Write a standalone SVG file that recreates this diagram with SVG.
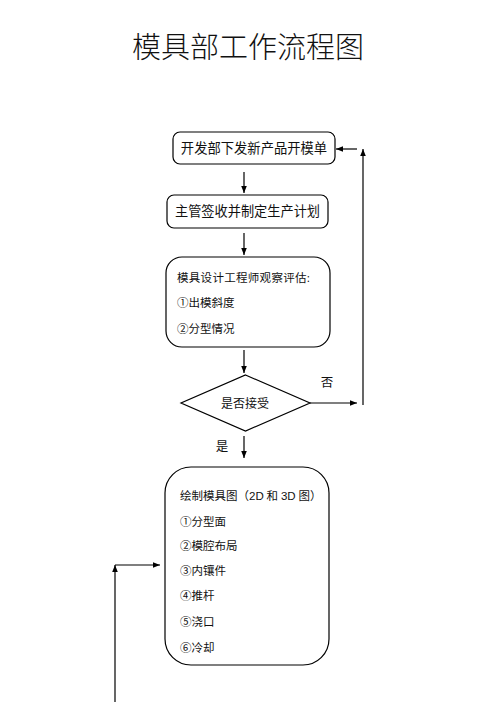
<svg xmlns="http://www.w3.org/2000/svg" width="496" height="702" viewBox="0 0 496 702">
<defs>
<marker id="ah" viewBox="0 0 10 10" refX="10" refY="5" markerWidth="7" markerHeight="7" orient="auto" markerUnits="userSpaceOnUse">
<path d="M0,1 L10,5 L0,9 Z" fill="#000"/>
</marker>
<style>
.box{fill:#fff;stroke:#000;stroke-width:1.2}
.t{font-family:"Liberation Serif","Noto Sans CJK SC",serif;fill:#111}
.s{font-family:"Liberation Sans","Noto Sans CJK SC",sans-serif}
.c{stroke:#000;stroke-width:1.2;fill:none}
.a{marker-end:url(#ah)}
</style>
</defs>
<rect width="496" height="702" fill="#fff"/>
<text class="t" x="248" y="58" font-size="29" text-anchor="middle" font-weight="300">模具部工作流程图</text>

<g id="n1">
<rect class="box" x="173" y="132" width="162" height="32" rx="7"/>
<text class="t" x="254" y="153" font-size="13.3" text-anchor="middle">开发部下发新产品开模单</text>
</g>
<g id="n2">
<rect class="box" x="167" y="195" width="161" height="33" rx="7"/>
<text class="t" x="247.5" y="216" font-size="13.2" text-anchor="middle">主管签收并制定生产计划</text>
</g>
<g id="n3">
<rect class="box" x="166" y="257" width="164" height="90" rx="16"/>
<text class="t" x="177" y="282" font-size="11.5" letter-spacing="0.3">模具设计工程师观察评估:</text>
<text class="t" x="177" y="307" font-size="11.5">①出模斜度</text>
<text class="t" x="177" y="333" font-size="11.5">②分型情况</text>
</g>
<g id="n4">
<polygon class="box" points="245.5,375 310,403 245.5,431 181,403"/>
<text class="t" x="245" y="408" font-size="12" text-anchor="middle">是否接受</text>
</g>
<g id="n5">
<rect class="box" x="165" y="467" width="164" height="198" rx="26"/>
<text class="t" x="180" y="500" font-size="11.5">绘制模具图（<tspan class="s">2D</tspan> 和 <tspan class="s">3D</tspan> 图）</text>
<text class="t" x="180" y="526" font-size="11.5">①分型面</text>
<text class="t" x="180" y="550" font-size="11.5">②模腔布局</text>
<text class="t" x="180" y="575" font-size="11.5">③内镶件</text>
<text class="t" x="180" y="600" font-size="11.5">④推杆</text>
<text class="t" x="180" y="626" font-size="11.5">⑤浇口</text>
<text class="t" x="180" y="652" font-size="11.5">⑥冷却</text>
</g>

<g id="connectors">
<line class="c a" x1="244" y1="172" x2="244" y2="193"/>
<line class="c a" x1="244" y1="233" x2="244" y2="255"/>
<line class="c a" x1="244" y1="350" x2="244" y2="373"/>
<line class="c a" x1="310" y1="403" x2="357" y2="403"/>
<line class="c a" x1="363" y1="405" x2="363" y2="149"/>
<line class="c a" x1="357" y1="149" x2="336" y2="149"/>
<line class="c a" x1="244" y1="436" x2="244" y2="458"/>
<line class="c a" x1="115" y1="702" x2="115" y2="565"/>
<line class="c a" x1="115" y1="565" x2="160" y2="565"/>
<text class="t" x="327" y="387" font-size="12.5" text-anchor="middle">否</text>
<text class="t" x="222" y="451" font-size="12.5" text-anchor="middle">是</text>
</g>
</svg>
